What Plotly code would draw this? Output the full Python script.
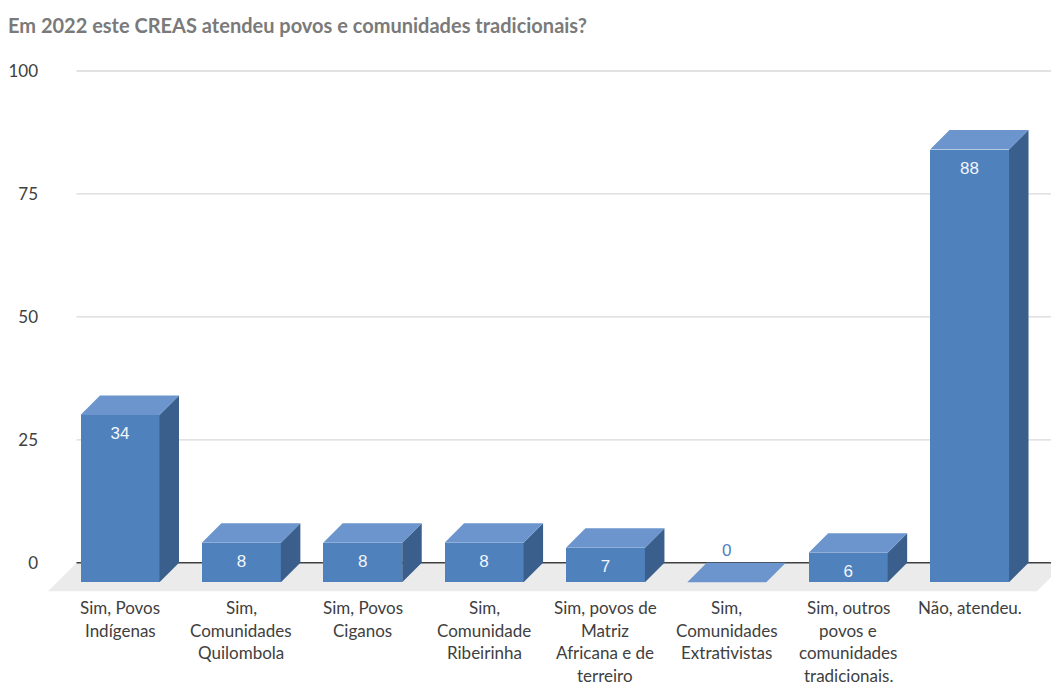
import plotly.graph_objects as go

# ---- data ----
categorias = [
    "Sim, Povos<br>Indígenas",
    "Sim,<br>Comunidades<br>Quilombola",
    "Sim, Povos<br>Ciganos",
    "Sim,<br>Comunidade<br>Ribeirinha",
    "Sim, povos de<br>Matriz<br>Africana e de<br>terreiro",
    "Sim,<br>Comunidades<br>Extrativistas",
    "Sim, outros<br>povos e<br>comunidades<br>tradicionais.",
    "Não, atendeu.",
]
valores = [34, 8, 8, 8, 7, 0, 6, 88]
y_ticks = [0, 25, 50, 75, 100]
titulo = "Em 2022 este CREAS atendeu povos e comunidades tradicionais?"

# ---- pseudo-3D geometry (axis units) ----
W = 0.651            # bar width
DX, DY = 0.1607, 3.966   # depth offset between back and front faces
FX, FY = 0.2348, 5.796   # depth of the floor
FLOOR_L, FLOOR_R = -0.754, 7.395   # floor front-edge ends
X_RANGE = [-0.7787, 7.5107]
Y_RANGE = [-7.586, 102.24]

C_FRONT = "#4f81bd"
C_TOP = "#6b95cc"
C_SIDE = "#3a5f8c"
TXT = "#404040"

xs = list(range(len(valores)))

fig = go.Figure()

# front faces
fig.add_trace(go.Bar(
    x=[x - DX for x in xs], y=valores, base=-DY, width=W,
    marker=dict(color=C_FRONT, line=dict(width=0)),
    hoverinfo="skip", showlegend=False,
))

# side faces
sx, sy = [], []
for x, v in zip(xs, valores):
    if v <= 0:
        continue
    r = x - DX + W / 2
    sx += [r, r + DX, r + DX, r, r, None]
    sy += [-DY, 0, v, v - DY, -DY, None]
fig.add_trace(go.Scatter(
    x=sx, y=sy, mode="lines", fill="toself", fillcolor=C_SIDE,
    line=dict(width=0, color=C_SIDE), hoverinfo="skip", showlegend=False,
))

# top faces
tx, ty = [], []
for x, v in zip(xs, valores):
    l = x - DX - W / 2
    r = x - DX + W / 2
    tx += [l, r, r + DX, l + DX, l, None]
    ty += [v - DY, v - DY, v, v, v - DY, None]
fig.add_trace(go.Scatter(
    x=tx, y=ty, mode="lines", fill="toself", fillcolor=C_TOP,
    line=dict(width=0, color=C_TOP), hoverinfo="skip", showlegend=False,
))

# value labels
lab_y = [v - DY - 4.07 if v > 0 else 2.2 for v in valores]
lab_c = ["#f2f5fa" if v > 0 else C_FRONT for v in valores]
fig.add_trace(go.Scatter(
    x=[x - DX for x in xs], y=lab_y, mode="text",
    text=[str(v) for v in valores],
    textfont=dict(family="Liberation Sans, Arial", size=17, color=lab_c),
    textposition="middle center", hoverinfo="skip", showlegend=False,
))

shapes = []
# floor
shapes.append(dict(
    type="path", xref="x", yref="y", layer="below",
    path=(f"M {FLOOR_L},{-FY} L {FLOOR_R},{-FY} L {FLOOR_R + FX},0 "
          f"L {FLOOR_L + FX},0 Z"),
    fillcolor="#ebebeb", line=dict(width=0),
))
# gridlines
for t in y_ticks:
    shapes.append(dict(
        type="line", xref="x", yref="y", layer="below",
        x0=FLOOR_L + FX, x1=X_RANGE[1] + 1, y0=t, y1=t,
        line=dict(color="#404040" if t == 0 else "#d9d9d9",
                  width=1.4 if t == 0 else 1.3),
    ))

# category labels, one annotation per line
annotations = []
for x, cat in zip(xs, categorias):
    for k, linha in enumerate(cat.split("<br>")):
        annotations.append(dict(
            x=x - DX, xref="x", y=0, yref="paper",
            text=linha, showarrow=False, xanchor="center", yanchor="middle",
            yshift=-(7.5 + 22.6 * k),
            font=dict(family="Lato", size=17, color=TXT),
        ))

fig.update_layout(
    width=1051, height=686,
    margin=dict(l=45, r=0, t=60, b=86),
    paper_bgcolor="white", plot_bgcolor="white",
    bargap=0,
    title=dict(
        text=f"<b>{titulo}</b>", x=8 / 1051, xref="container", xanchor="left",
        y=1 - 26 / 686, yref="container", yanchor="middle",
        font=dict(family="Lato", size=20, color="#7a7a7a"),
    ),
    xaxis=dict(range=X_RANGE, visible=False, fixedrange=True),
    yaxis=dict(
        range=Y_RANGE, tickvals=y_ticks, showgrid=False, zeroline=False,
        showline=False, ticks="", ticklabelstandoff=6,
        tickfont=dict(family="Lato", size=17, color=TXT),
        fixedrange=True,
    ),
    shapes=shapes,
    annotations=annotations,
)

fig.write_html("out.html")
